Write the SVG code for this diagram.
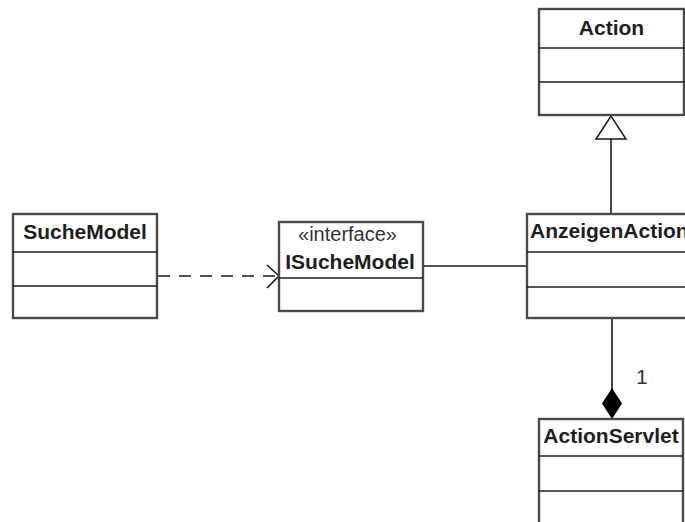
<svg xmlns="http://www.w3.org/2000/svg" width="685" height="522" viewBox="0 0 685 522">
  <style>
    .box { fill: #ffffff; stroke: #4a4a4a; stroke-width: 2.4; }
    .div { stroke: #1e1e1e; stroke-width: 1.5; }
    .title { font-family: "Liberation Sans", Arial, sans-serif; font-size: 21px; font-weight: bold; fill: #1e1e1e; }
    .stereo { font-family: "Liberation Sans", Arial, sans-serif; font-size: 20px; fill: #333333; }
    .mult { font-family: "Liberation Sans", Arial, sans-serif; font-size: 21px; fill: #333333; }
    .line { stroke: #1a1a1a; stroke-width: 1.6; fill: none; }
  </style>
  <rect width="685" height="522" fill="#ffffff"/>

  <g id="connectors">
    <!-- realization: SucheModel -> ISucheModel -->
    <line class="line" x1="158" y1="276" x2="278" y2="276" stroke-dasharray="12 9"/>
    <polyline class="line" points="267,265 279,276 267,288"/>
    <!-- association: ISucheModel - AnzeigenAction -->
    <line class="line" x1="424" y1="266" x2="527" y2="266"/>
    <!-- generalization: AnzeigenAction -> Action -->
    <line class="line" x1="611" y1="138" x2="611" y2="214"/>
    <polygon points="611,116 596,139 626,139" fill="#ffffff" stroke="#1a1a1a" stroke-width="1.5"/>
    <!-- composition: ActionServlet owns AnzeigenAction -->
    <line class="line" x1="612" y1="318" x2="612" y2="390"/>
    <polygon points="612,388 622,403.5 612,419 602,403.5" fill="#000000"/>
    <text class="mult" x="636" y="384">1</text>
  </g>

  <g id="Action">
    <rect class="box" x="539" y="9" width="145" height="106"/>
    <line class="div" x1="539" y1="48" x2="684" y2="48"/>
    <line class="div" x1="539" y1="82" x2="684" y2="82"/>
    <text class="title" x="611.5" y="35" text-anchor="middle">Action</text>
  </g>

  <g id="SucheModel">
    <rect class="box" x="13" y="214" width="144" height="104"/>
    <line class="div" x1="13" y1="252" x2="157" y2="252"/>
    <line class="div" x1="13" y1="286" x2="157" y2="286"/>
    <text class="title" x="85" y="239" text-anchor="middle">SucheModel</text>
  </g>

  <g id="ISucheModel">
    <rect class="box" x="279" y="222" width="144" height="89"/>
    <line class="div" x1="279" y1="278" x2="423" y2="278"/>
    <text class="stereo" x="347.5" y="241" text-anchor="middle">«interface»</text>
    <text class="title" x="350" y="269" text-anchor="middle">ISucheModel</text>
  </g>

  <g id="AnzeigenAction">
    <rect class="box" x="527" y="214" width="180" height="104"/>
    <line class="div" x1="527" y1="252" x2="707" y2="252"/>
    <line class="div" x1="527" y1="287" x2="707" y2="287"/>
    <text class="title" x="530" y="238">AnzeigenAction</text>
  </g>

  <g id="ActionServlet">
    <rect class="box" x="539" y="419" width="144" height="120"/>
    <line class="div" x1="539" y1="456" x2="683" y2="456"/>
    <line class="div" x1="539" y1="491" x2="683" y2="491"/>
    <text class="title" x="611" y="443" text-anchor="middle">ActionServlet</text>
  </g>
</svg>
